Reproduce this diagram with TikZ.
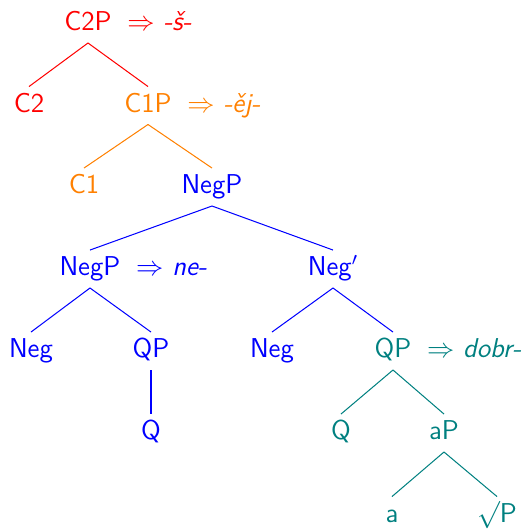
\documentclass[tikz,border=0pt]{standalone}
\usepackage{xcolor}
\usepackage{tikz}
\usetikzlibrary{positioning,calc}

\begin{document}
\begin{tikzpicture}[
  x=0.44pt, y=-0.44pt,
  every node/.style={font=\sffamily\fontsize{12}{14}\selectfont},
  cat/.style={inner sep=2.5pt, text height=8.5pt, text depth=2.8pt, anchor=base},
  spell/.style={inner sep=2.5pt, anchor=base west},
  branch/.style={line width=0.45pt}
]
\useasboundingbox (0,0) rectangle (529,530);

% level 0
\node[cat, red]    (c2p)  at (88,30.5)   {C2P};
\node[spell, red]  (c2pso) at ([xshift=1.5pt]c2p.base east) {$\Rightarrow$ \textit{-š-}};
% level 1
\node[cat, red]    (c2)   at (29,112)    {C2};
\node[cat, orange] (c1p)  at (148,112)   {C1P};
\node[spell, orange] (c1pso) at ([xshift=1.5pt]c1p.base east) {$\Rightarrow$ \textit{-ěj-}};
% level 2
\node[cat, orange] (c1)   at (84,193.5)  {C1};
\node[cat, blue]   (negp) at (212,193.5) {NegP};
% level 3
\node[cat, blue]   (negpl) at (90,275.5) {NegP};
\node[spell, blue] (negplso) at ([xshift=1.5pt]negpl.base east) {$\Rightarrow$ \textit{ne-}};
\node[cat, blue]   (negbar) at (333,275.5) {Neg$'$};
% level 4
\node[cat, blue]   (negl) at (31,357.5)  {Neg};
\node[cat, blue]   (qpl)  at (151,357.5) {QP};
\node[cat, blue]   (negr) at (272,357.5) {Neg};
\node[cat, teal]   (qpr)  at (393,357.5) {QP};
\node[spell, teal] (qprso) at ([xshift=1.5pt]qpr.base east) {$\Rightarrow$ \textit{dobr-}};
% level 5
\node[cat, blue]   (ql)   at (151,439.5) {Q};
\node[cat, teal]   (qr)   at (341,439.5) {Q};
\node[cat, teal]   (ap)   at (444,439.5) {aP};
% level 6
\node[cat, teal]   (a)    at (392,522)   {a};
\node[cat, teal]   (rootp) at (497,522)  {$\surd$P};

\draw[branch, red]    (c2p.south)   -- (c2.north);
\draw[branch, red]    (c2p.south)   -- (c1p.north);
\draw[branch, orange] (c1p.south)   -- (c1.north);
\draw[branch, orange] (c1p.south)   -- (negp.north);
\draw[branch, blue]   (negp.south)  -- (negpl.north);
\draw[branch, blue]   (negp.south)  -- (negbar.north);
\draw[branch, blue]   (negpl.south) -- (negl.north);
\draw[branch, blue]   (negpl.south) -- (qpl.north);
\draw[branch, blue]   (negbar.south) -- (negr.north);
\draw[branch, blue]   (negbar.south) -- (qpr.north);
\draw[branch, blue]   (qpl.south)   -- (ql.north);
\draw[branch, teal]   (qpr.south)   -- (qr.north);
\draw[branch, teal]   (qpr.south)   -- (ap.north);
\draw[branch, teal]   (ap.south)    -- (a.north);
\draw[branch, teal]   (ap.south)    -- (rootp.north);
\end{tikzpicture}
\end{document}
